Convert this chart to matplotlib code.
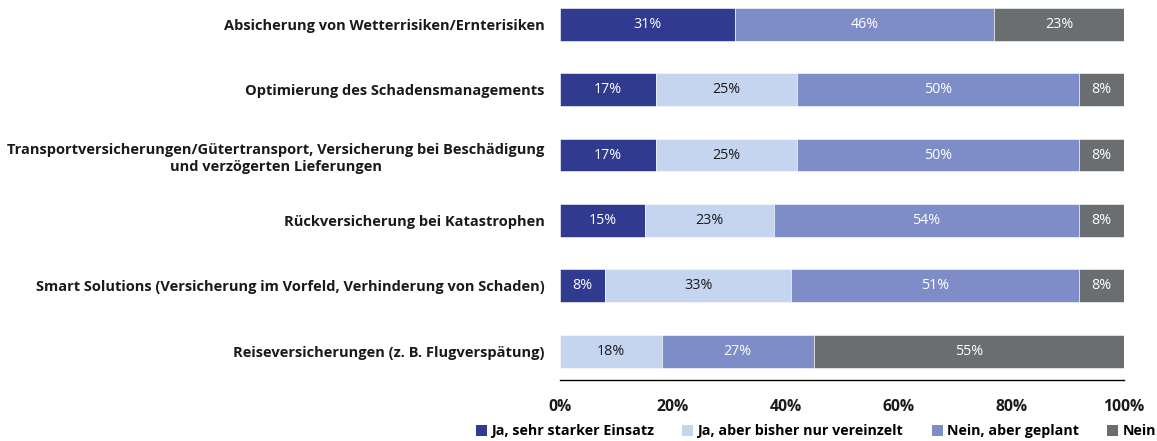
import numpy as np
import matplotlib.pyplot as plt
from matplotlib.patches import Patch

categories = [
    "Absicherung von Wetterrisiken/Ernterisiken",
    "Optimierung des Schadensmanagements",
    "Transportversicherungen/Gütertransport, Versicherung bei Beschädigung\nund verzögerten Lieferungen",
    "Rückversicherung bei Katastrophen",
    "Smart Solutions (Versicherung im Vorfeld, Verhinderung von Schaden)",
    "Reiseversicherungen (z. B. Flugverspätung)",
]
series = [
    "Ja, sehr starker Einsatz",
    "Ja, aber bisher nur vereinzelt",
    "Nein, aber geplant",
    "Nein",
]
stark = [31, 17, 17, 15, 8, 0]
vereinzelt = [0, 25, 25, 23, 33, 18]
geplant = [46, 50, 50, 54, 51, 27]
nein = [23, 8, 8, 8, 8, 55]

colors = ["#303a8f", "#c5d5f0", "#7e8cc8", "#6a6e71"]
text_colors = ["white", "#1a1a1a", "white", "white"]

plt.rcParams["font.family"] = ["Open Sans", "DejaVu Sans"]

fig = plt.figure(figsize=(11.57, 4.41), dpi=100)
ax = fig.add_axes([560 / 1157, 1 - 380 / 441, 564 / 1157, 380 / 441])

y = np.arange(len(categories))
left = np.zeros(len(categories))
for vals, col, tcol in zip([stark, vereinzelt, geplant, nein], colors, text_colors):
    vals = np.array(vals, dtype=float)
    ax.barh(y, vals, left=left, height=0.5, color=col, edgecolor="white", linewidth=0.4)
    for yi, (l, v) in enumerate(zip(left, vals)):
        if v > 0:
            ax.text(l + v / 2, yi, f"{int(v)}%", ha="center", va="center",
                    color=tcol, fontsize=10.3)
    left += vals

ax.set_xlim(0, 100)
ax.set_ylim(5.44, -0.37)
ax.set_yticks(y)
ax.set_yticklabels(categories, fontsize=10.5, fontweight="bold", color="#1a1a1a",
                   ha="right", multialignment="center", linespacing=1.35)
ax.tick_params(axis="y", length=0, pad=11)
ax.set_xticks([0, 20, 40, 60, 80, 100])
ax.set_xticklabels([f"{t}%" for t in [0, 20, 40, 60, 80, 100]], fontsize=11.3,
                   fontweight="bold", color="#1a1a1a")
ax.tick_params(axis="x", length=0, pad=14)
for s in ["top", "right", "left"]:
    ax.spines[s].set_visible(False)
ax.spines["bottom"].set_color("black")
ax.spines["bottom"].set_linewidth(1.0)

handles = [Patch(facecolor=c) for c in colors]
fig.legend(handles, series, loc="lower right", bbox_to_anchor=(0.999, 0.006),
           ncol=4, frameon=False, handlelength=0.77, handleheight=0.77,
           handletextpad=0.28, columnspacing=2.0, borderaxespad=0, borderpad=0,
           prop={"weight": "bold", "size": 10.3})

fig.savefig("out.png", dpi=100)
